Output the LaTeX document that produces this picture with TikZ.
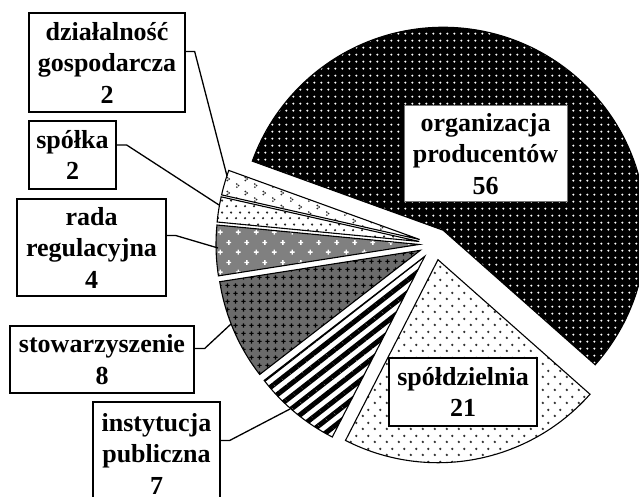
\documentclass[tikz,border=0pt]{standalone}
\usepackage{fontspec}
\setmainfont{Liberation Serif}
\usetikzlibrary{patterns,patterns.meta}

% square grid of round spots
\pgfdeclarepatternformonly{gridspots}{\pgfpointorigin}{\pgfqpoint{7.3pt}{7.3pt}}{\pgfqpoint{7.3pt}{7.3pt}}{%
  \pgfpathcircle{\pgfqpoint{3.65pt}{3.65pt}}{1.2pt}\pgfusepath{fill}}
% staggered spots, coarse
\pgfdeclarepatternformonly{stagspots}{\pgfpointorigin}{\pgfqpoint{12pt}{13pt}}{\pgfqpoint{12pt}{13pt}}{%
  \pgfpathcircle{\pgfqpoint{3pt}{3.25pt}}{1.35pt}%
  \pgfpathcircle{\pgfqpoint{9pt}{9.75pt}}{1.35pt}\pgfusepath{fill}}
% staggered spots, fine
\pgfdeclarepatternformonly{finespots}{\pgfpointorigin}{\pgfqpoint{9pt}{12pt}}{\pgfqpoint{9pt}{12pt}}{%
  \pgfpathcircle{\pgfqpoint{2.25pt}{3pt}}{1.3pt}%
  \pgfpathcircle{\pgfqpoint{6.75pt}{9pt}}{1.3pt}\pgfusepath{fill}}
% little hook-shaped clusters
\pgfdeclarepatternformonly{hooks}{\pgfpointorigin}{\pgfqpoint{18pt}{14pt}}{\pgfqpoint{18pt}{14pt}}{%
  \pgfpathcircle{\pgfqpoint{3pt}{2pt}}{1pt}%
  \pgfpathcircle{\pgfqpoint{4.8pt}{3.6pt}}{1pt}%
  \pgfpathcircle{\pgfqpoint{3pt}{5.2pt}}{1pt}%
  \pgfpathcircle{\pgfqpoint{12pt}{9pt}}{1pt}%
  \pgfpathcircle{\pgfqpoint{13.8pt}{10.6pt}}{1pt}%
  \pgfpathcircle{\pgfqpoint{12pt}{12.2pt}}{1pt}\pgfusepath{fill}}
% sparse staggered plus signs
\pgfdeclarepatternformonly{sparsecross}{\pgfpointorigin}{\pgfqpoint{18pt}{20pt}}{\pgfqpoint{18pt}{20pt}}{%
  \pgfsetlinewidth{1.4pt}%
  \pgfpathmoveto{\pgfqpoint{2pt}{5pt}}\pgfpathlineto{\pgfqpoint{7pt}{5pt}}%
  \pgfpathmoveto{\pgfqpoint{4.5pt}{2.5pt}}\pgfpathlineto{\pgfqpoint{4.5pt}{7.5pt}}%
  \pgfpathmoveto{\pgfqpoint{11pt}{15pt}}\pgfpathlineto{\pgfqpoint{16pt}{15pt}}%
  \pgfpathmoveto{\pgfqpoint{13.5pt}{12.5pt}}\pgfpathlineto{\pgfqpoint{13.5pt}{17.5pt}}%
  \pgfusepath{stroke}}
% dense plus signs
\pgfdeclarepatternformonly{densecross}{\pgfpointorigin}{\pgfqpoint{8pt}{8pt}}{\pgfqpoint{8pt}{8pt}}{%
  \pgfsetlinewidth{1.3pt}%
  \pgfpathmoveto{\pgfqpoint{1.6pt}{4pt}}\pgfpathlineto{\pgfqpoint{6.4pt}{4pt}}%
  \pgfpathmoveto{\pgfqpoint{4pt}{1.6pt}}\pgfpathlineto{\pgfqpoint{4pt}{6.4pt}}%
  \pgfusepath{stroke}}

\tikzset{
  wedge/.style={draw=black, line width=1.1pt, line join=miter},
  lbl/.style={draw=black, line width=1.3pt, fill=white, align=center, inner sep=0pt,
    font=\bfseries\fontsize{26}{31.5}\selectfont},
  leader/.style={draw=black, line width=1.3pt},
}

% one exploded sector: style, start angle, end angle
\newcommand\wedgeat[3]{%
  \draw[wedge,#1] ({(#2+#3)/2}:16) -- ++(#2:203)
    arc[start angle=#2, end angle=#3, radius=203] -- cycle;}

\begin{document}
\begin{tikzpicture}[x=1pt,y=1pt]
\useasboundingbox (0,0) rectangle (639,497);
\clip (0,0) rectangle (639,497);
\fill[white] (0,0) rectangle (639,497);

\begin{scope}[shift={(435,253)}]
  \wedgeat{preaction={fill=black}, pattern=gridspots, pattern color=white}{-41.5}{160.1}
  \wedgeat{preaction={fill=white}, pattern=hooks, pattern color=black!85}{160.1}{167.3}
  \wedgeat{preaction={fill=white}, pattern=finespots, pattern color=black!85}{167.3}{174.5}
  \wedgeat{preaction={fill=black!50}, pattern=sparsecross, pattern color=white}{174.5}{188.9}
  \wedgeat{preaction={fill=black!58}, pattern=densecross, pattern color=black}{188.9}{217.7}
  \wedgeat{preaction={fill=white}, pattern={Lines[angle=38,distance=10pt,line width=5pt]}, pattern color=black}{217.7}{242.9}
  \wedgeat{preaction={fill=white}, pattern=stagspots, pattern color=black!80}{242.9}{318.5}
\end{scope}

% anchor points on the sectors
\coordinate (dzpin) at (227,321);
\coordinate (sppin) at (219,292);
\coordinate (radapin) at (218,249);
\coordinate (stowpin) at (231,173);
\coordinate (instpin) at (290,88);

% labels
\node[lbl, minimum width=156, minimum height=99] (dzbox) at (107,434.5) {działalność\\gospodarcza\\2};
\node[lbl, minimum width=87, minimum height=68] (spbox) at (72.5,342) {spółka\\2};
\node[lbl, minimum width=149, minimum height=97] (radabox) at (91.5,249.5) {rada\\regulacyjna\\4};
\node[lbl, minimum width=184, minimum height=67] (stowbox) at (102,137.5) {stowarzyszenie\\8};
\node[lbl, minimum width=127, minimum height=103] (instbox) at (156.5,43.5) {instytucja\\publiczna\\7};
\node[lbl, draw=black!55, line width=1pt, minimum width=163, minimum height=96] (orgbox) at (485.5,343) {organizacja\\producentów\\56};
\node[lbl, minimum width=148, minimum height=68] (spdbox) at (463,105) {spółdzielnia\\21};

% leader lines
\draw[leader] ([yshift=11pt]dzbox.east) -- ++(9,0) -- (dzpin);
\draw[leader] ([yshift=10pt]spbox.east) -- ++(10,0) -- (sppin);
\draw[leader] ([yshift=12pt]radabox.east) -- ++(9,0) -- (radapin);
\draw[leader] ([yshift=11pt]stowbox.east) -- ++(10,0) -- (stowpin);
\draw[leader] ([yshift=13pt]instbox.east) -- ++(9,0) -- (instpin);
\end{tikzpicture}
\end{document}
